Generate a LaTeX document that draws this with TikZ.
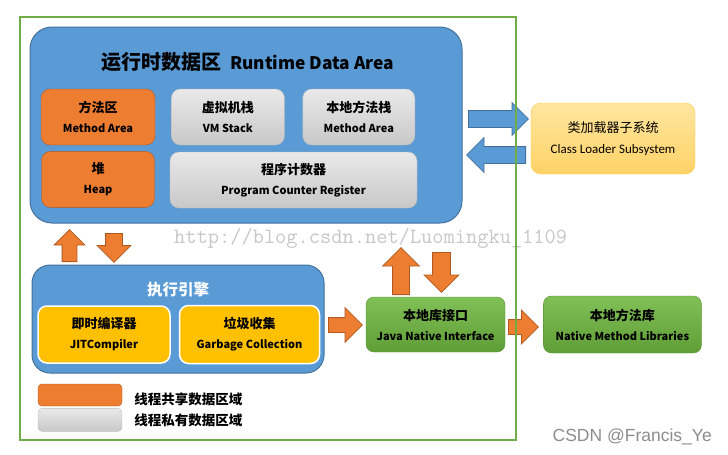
\documentclass[tikz,border=0pt]{standalone}
\usepackage{fontspec}
\setmainfont{Carlito}
\newfontfamily\cjk{Noto Sans CJK SC}
\newfontfamily\marksans{Liberation Sans}
\usetikzlibrary{calc,positioning,shapes.arrows}
\definecolor{areablue}{HTML}{5B9BD5}
\definecolor{arealine}{HTML}{41719C}
\definecolor{shareorange}{HTML}{ED7D31}
\definecolor{shareline}{HTML}{AE5A21}
\definecolor{privtop}{HTML}{E9E9E9}
\definecolor{privbot}{HTML}{C8C8C8}
\definecolor{privline}{HTML}{BDBDBD}
\definecolor{loadtop}{HTML}{FFE6A0}
\definecolor{loadbot}{HTML}{FFD266}
\definecolor{loadline}{HTML}{FFC83C}
\definecolor{engineyellow}{HTML}{FFC000}
\definecolor{nattop}{HTML}{80C057}
\definecolor{natbot}{HTML}{5F9E36}
\definecolor{natline}{HTML}{5A9334}
\definecolor{framegreen}{HTML}{70AD47}
% latin line of a box
\newcommand*{\boxen}[1]{{\fontsize{11}{20}\selectfont #1}}
\tikzset{
  box/.style={rounded corners=9pt, align=center, inner sep=0pt, minimum height=56pt,
    font=\cjk\fontsize{13}{20}\selectfont\bfseries},
  shared/.style={box, fill=shareorange, draw=shareline},
  private/.style={box, top color=privtop, bottom color=privbot, draw=privline},
  region/.style={rounded corners=#1, fill=areablue, draw=arealine, line width=1pt},
  compiler/.style={box, fill=engineyellow, draw=white, line width=1.5pt},
  loader/.style={box, top color=loadtop, bottom color=loadbot, draw=loadline,
    rounded corners=10pt, font=\fontsize{13}{21}\selectfont},
  native/.style={box, top color=nattop, bottom color=natbot, draw=natline, rounded corners=8pt},
  barrow/.style n args={3}{single arrow, inner xsep=0pt, inner ysep=#2,
    single arrow head extend=#3, minimum height=#1, anchor=tail, line width=0.8pt},
  bluearrow/.style={fill=areablue, draw=arealine},
  orangearrow/.style={fill=shareorange, draw=shareline},
  legendtext/.style={inner sep=0pt, anchor=west, font=\cjk\fontsize{13.5}{16}\selectfont\bfseries}
}
\begin{document}
\begin{tikzpicture}[x=1pt,y=-1pt]
\useasboundingbox (0,0) rectangle (728,455);

% runtime data area
\node[region=22pt, minimum width=432pt, minimum height=196pt] (rda) at (246,125) {};
\node[font=\cjk\fontsize{20}{24}\selectfont\bfseries] (rdatitle) at (247.5,62)
  {运行时数据区\hspace{9pt}{\fontsize{17.3}{24}\selectfont Runtime Data Area}};
\node[shared, minimum width=114pt] (method) at (98,117) {方法区\\\boxen{Method Area}};
\node[private, minimum width=113pt, right=16pt of method] (vmstack) {虚拟机栈\\\boxen{VM Stack}};
\node[private, minimum width=112pt, right=18pt of vmstack] (nstack) {本地方法栈\\\boxen{Method Area}};
\node[shared, minimum width=113pt, below=6pt of method] (heap) {堆\\\boxen{Heap}};
\node[private, minimum width=247pt] (pcr) at (293.5,180) {程序计数器\\\boxen{Program Counter Register}};

% class loader
\node[loader, minimum width=164pt, minimum height=71pt] (cls) at (613,138.5)
  {{\cjk 类加载器子系统}\\Class Loader Subsystem};
\node[barrow={60pt}{8pt}{8pt}, bluearrow] (toload) at (468,119) {};
\node[barrow={59pt}{8pt}{9pt}, bluearrow, rotate=180] (fromload) at (526,155) {};

% execution engine
\node[region=18pt, minimum width=292pt, minimum height=108pt] (ee) at (178,319) {};
\node[font=\cjk\fontsize{15.5}{18}\selectfont\bfseries, text=white] (eetitle) at (178,290) {执行引擎};
\node[compiler, minimum width=132pt, minimum height=57pt] (jit) at (104,334.5) {即时编译器\\\boxen{JITCompiler}};
\node[compiler, minimum width=140pt, minimum height=58pt, right=8pt of jit] (gc) {垃圾收集\\\boxen{Garbage Collection}};
\node[barrow={32pt}{7pt}{8pt}, orangearrow, rotate=90] (eeup) at (69.5,262) {};
\node[barrow={29pt}{8pt}{8.5pt}, orangearrow, rotate=-90] (eedown) at (114,233) {};

% native interface
\node[native, minimum width=139pt, minimum height=55pt] (jni) at (435.5,324.5)
  {本地库接口\\\boxen{Java Native Interface}};
\node[native, minimum width=158pt, minimum height=57pt, right=38pt of jni] (nml)
  {本地方法库\\\boxen{Native Method Libraries}};
\node[barrow={47pt}{8pt}{10pt}, orangearrow, rotate=90] (jniup) at (401,295) {};
\node[barrow={40pt}{8.5pt}{8.5pt}, orangearrow, rotate=-90] (jnidown) at (441.5,252) {};
\node[barrow={34pt}{7pt}{10pt}, orangearrow] (eetojni) at (328,325) {};
\node[barrow={30pt}{7pt}{9.5pt}, orangearrow] (jnitonml) at (508,327) {};

% legend
\node[shared, minimum width=84pt, minimum height=22pt, rounded corners=4pt] (legshared) at (80,395) {};
\node[private, minimum width=84pt, minimum height=23pt, rounded corners=4pt, below=2pt of legshared] (legprivate) {};
\node[legendtext, right=12pt of legshared, yshift=-4pt] (sharedtext) {线程共享数据区域};
\node[legendtext, right=12pt of legprivate] (privatetext) {线程私有数据区域};

% marks
\node[anchor=west, inner sep=0pt, text=black!22, font=\ttfamily\fontsize{21.8}{24}\selectfont] (blogmark) at (174,238)
  {http://blog.csdn.net/Luomingku\_1109};
\node[anchor=east, inner sep=0pt, text=black!45, font=\marksans\fontsize{17.5}{20}\selectfont] (csdnmark) at (712,437)
  {CSDN @Francis\_Ye};

\draw[framegreen, line width=2.5pt] (20,17) rectangle (516,440);
\end{tikzpicture}
\end{document}
